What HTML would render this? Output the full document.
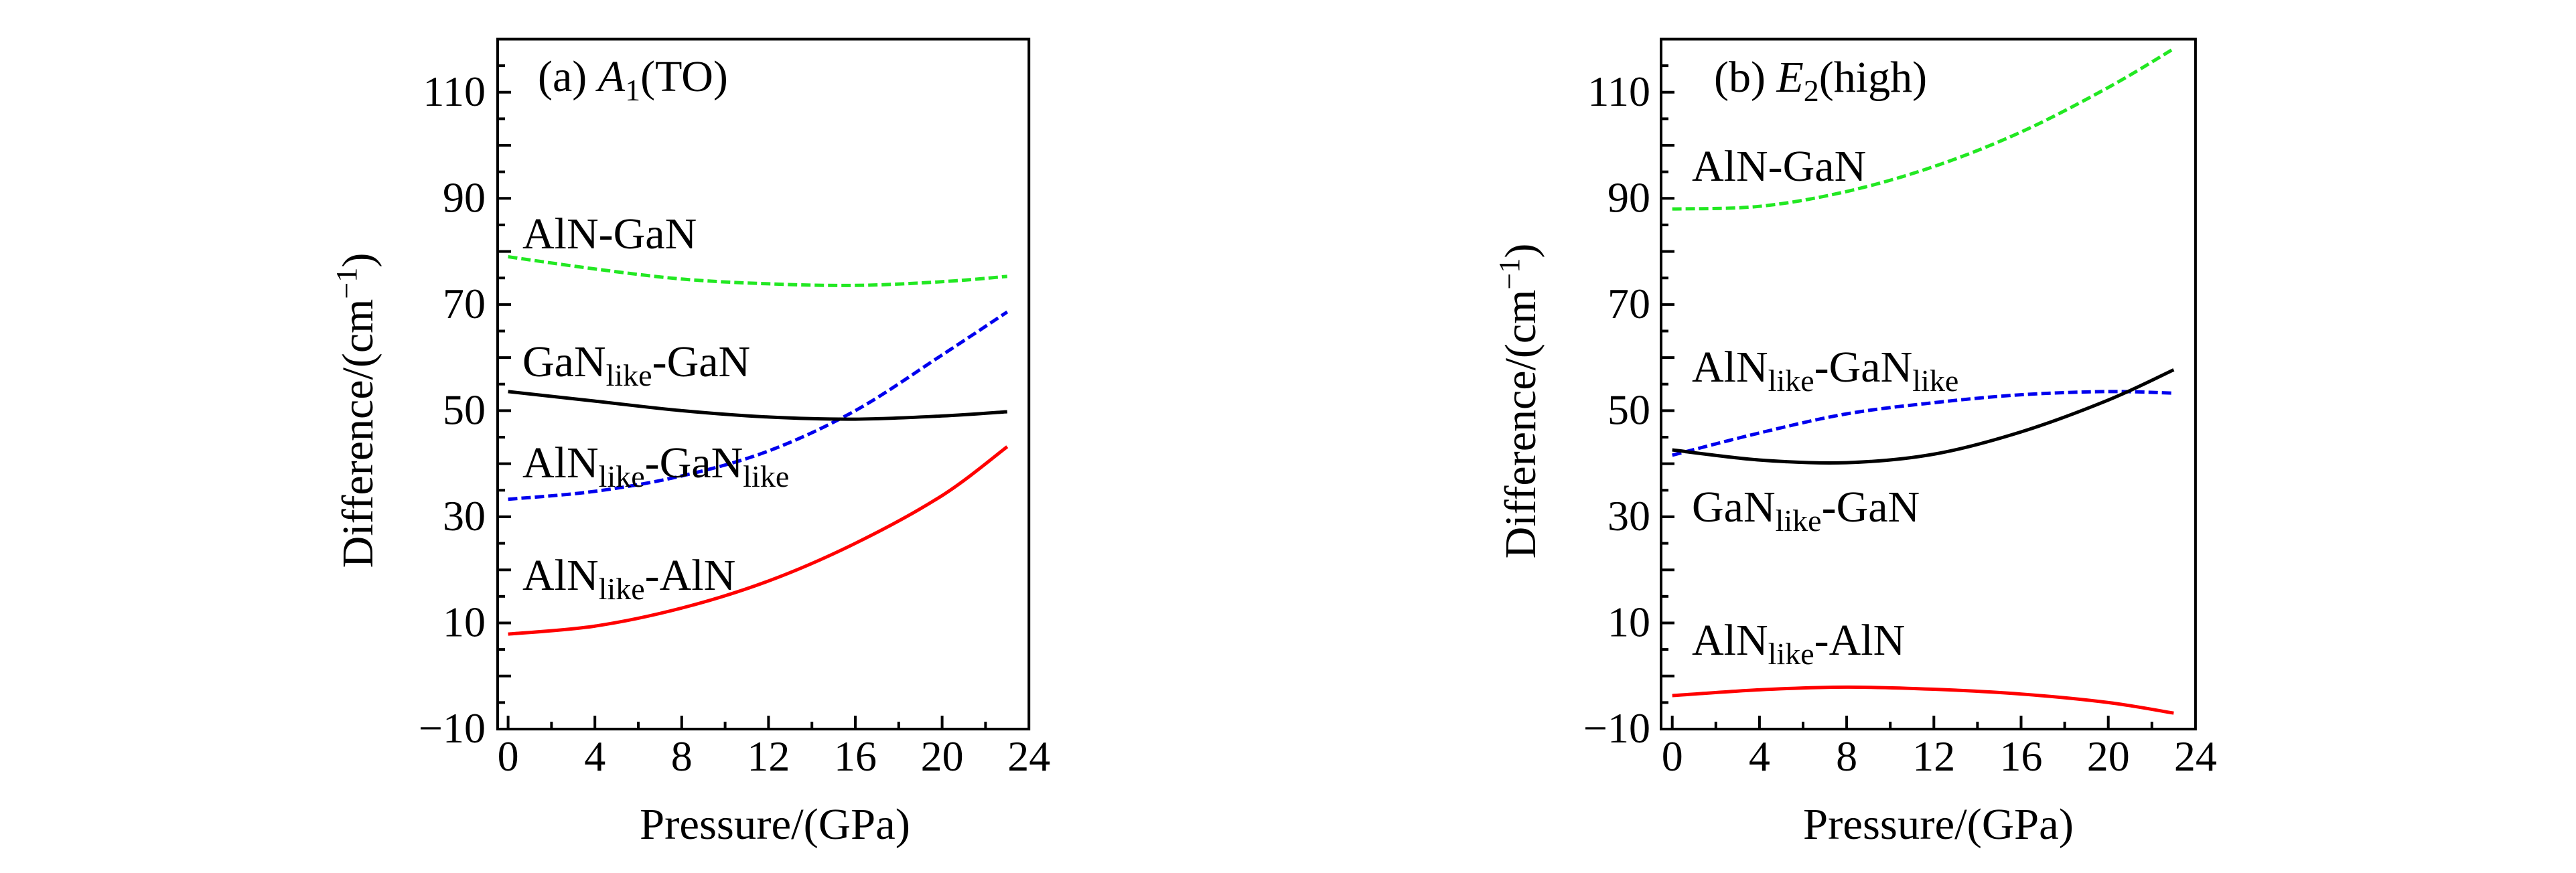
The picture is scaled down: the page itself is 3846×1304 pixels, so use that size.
<!DOCTYPE html>
<html><head><meta charset="utf-8"><style>
html,body{margin:0;padding:0;background:#fff;}
svg, svg text{font-family:"Liberation Serif","DejaVu Serif",serif;}
</style></head><body>
<svg id="chart" width="3846" height="1299" viewBox="0 0 3846 1299" xmlns="http://www.w3.org/2000/svg" font-family="Liberation Serif, DejaVu Serif, serif">
<rect x="0" y="0" width="3846" height="1299" fill="#fff"/>
</svg>
<script>
const pressures = [0, 4, 8, 12, 16, 20, 23];
const xTicks = [0, 4, 8, 12, 16, 20, 24];
const yTickLabels = [110, 90, 70, 50, 30, 10, -10];
// Panel (a) A1(TO)
const a_AlN_GaN = [79, 76.7, 74.8, 73.9, 73.6, 74.3, 75.3];
const a_AlNlike_GaNlike = [33.3, 34.8, 37.7, 42.4, 50, 60.5, 68.6];
const a_GaNlike_GaN = [53.6, 51.8, 50, 48.8, 48.4, 49, 49.8];
const a_AlNlike_AlN = [7.9, 9.4, 12.8, 17.9, 25, 34, 43.2];
// Panel (b) E2(high)
const b_AlN_GaN = [88, 88.5, 91.3, 96, 102.5, 110.9, 118.2];
const b_AlNlike_GaNlike = [41.6, 45.8, 49.4, 51.5, 53, 53.6, 53.3];
const b_GaNlike_GaN = [42.6, 40.7, 40.2, 41.8, 46, 52, 57.7];
const b_AlNlike_AlN = [-3.7, -2.6, -2.1, -2.5, -3.4, -5, -7];

const NS = "http://www.w3.org/2000/svg";
const FONT = '"Liberation Serif", "DejaVu Serif", serif';
const svg = document.getElementById('chart');
function mk(tag, attrs, parent) {
  const e = document.createElementNS(NS, tag);
  for (const k in attrs) e.setAttribute(k, attrs[k]);
  if (tag === 'text') e.style.fontFamily = FONT;
  (parent || svg).appendChild(e);
  return e;
}
function spline(pts) {
  let d = 'M' + pts[0][0] + ',' + pts[0][1];
  for (let i = 0; i < pts.length - 1; i++) {
    const p0 = pts[Math.max(i - 1, 0)], p1 = pts[i], p2 = pts[i + 1], p3 = pts[Math.min(i + 2, pts.length - 1)];
    const c1x = p1[0] + (p2[0] - p0[0]) / 6, c1y = p1[1] + (p2[1] - p0[1]) / 6;
    const c2x = p2[0] - (p3[0] - p1[0]) / 6, c2y = p2[1] - (p3[1] - p1[1]) / 6;
    d += ' C' + c1x + ',' + c1y + ' ' + c2x + ',' + c2y + ' ' + p2[0] + ',' + p2[1];
  }
  return d;
}
function labelWithSubs(g, x, y, parts, name) {
  const t = mk('text', {x: x, y: y, 'font-size': 66, fill: '#000'}, g);
  
  
  parts.forEach(p => {
    const s = mk('tspan', {}, t);
    if (p.sub) { s.setAttribute('font-size', 46); s.setAttribute('dy', 14); }
    else if (p.after) { s.setAttribute('dy', -14); }
    if (p.italic) s.setAttribute('font-style', 'italic');
    s.textContent = p.t;
  });
  return t;
}
function panel(cfg) {
  const g = mk('g', {});
  
  
  const x0 = cfg.x0, ppx = cfg.ppx, yTop = 58.5, yBot = 1089;
  const yMin = -10, yMax = 120;
  const X = v => x0 + v * ppx;
  const Y = v => yBot - (v - yMin) * (yBot - yTop) / (yMax - yMin);
  const left = cfg.left, right = X(24);
  const tg = mk('g', {stroke: '#000', 'stroke-width': 4}, g);
  
  
  for (let v = -5; v <= 115; v += 5) {
    const len = (v % 10 === 0) ? 20 : 11;
    mk('line', {x1: left, x2: left + len, y1: Y(v), y2: Y(v)}, tg);
  }
  for (let v = 0; v <= 22; v += 2) {
    const len = (v % 4 === 0) ? 20 : 11;
    mk('line', {x1: X(v), x2: X(v), y1: yBot, y2: yBot - len}, tg);
  }
  const fr = mk('rect', {x: left, y: yTop, width: right - left, height: yBot - yTop, fill: 'none', stroke: '#000', 'stroke-width': 4}, g);
  
  
  yTickLabels.forEach(v => {
    const t = mk('text', {x: cfg.ylabRight, y: Y(v) + 20, 'font-size': 64, 'text-anchor': 'end'}, g);
    
    
    t.textContent = v < 0 ? '\u2212' + Math.abs(v) : String(v);
  });
  xTicks.forEach(v => {
    const t = mk('text', {x: X(v), y: 1151, 'font-size': 64, 'text-anchor': 'middle'}, g);
    
    
    t.textContent = String(v);
  });
  const xt = mk('text', {x: cfg.xTitleX, y: 1253, 'font-size': 66, 'text-anchor': 'middle', textLength: 404, lengthAdjust: 'spacingAndGlyphs'}, g);
  
  
  xt.textContent = 'Pressure/(GPa)';
  const yt = mk('text', {x: 0, y: 0, 'font-size': 66, 'text-anchor': 'middle', transform: 'translate(' + cfg.yTitleX + ',' + cfg.yTitleY + ') rotate(-90)'}, g);
  
  
  const a1 = mk('tspan', {}, yt); a1.textContent = 'Difference/(cm';
  const a2 = mk('tspan', {dy: -24, 'font-size': 44}, yt); a2.textContent = '\u22121';
  const a3 = mk('tspan', {dy: 24}, yt); a3.textContent = ')';
  cfg.series.forEach(s => {
    const pts = pressures.map((p, i) => [X(p), Y(s.vals[i])]);
    const path = mk('path', {d: spline(pts), fill: 'none', stroke: s.color, 'stroke-width': 5, 'stroke-linecap': 'butt'}, g);
    if (s.dash) path.setAttribute('stroke-dasharray', '14 6');
    
    
  });
  cfg.labels.forEach(l => labelWithSubs(g, l.x, l.y, l.parts, l.name));
}

panel({
  name: 'panel-a-a1-to', x0: 758.6, ppx: 32.4, left: 743, ylabRight: 725,
  xTitleX: 1157, yTitleX: 556, yTitleY: 613,
  series: [
    {name: 'line-aln-gan', vals: a_AlN_GaN, color: '#22e822', dash: true},
    {name: 'line-alnlike-ganlike', vals: a_AlNlike_GaNlike, color: '#0000ee', dash: true},
    {name: 'line-ganlike-gan', vals: a_GaNlike_GaN, color: '#000', dash: false},
    {name: 'line-alnlike-aln', vals: a_AlNlike_AlN, color: '#ff0000', dash: false}
  ],
  labels: [
    {name: 'panel-title', x: 803, y: 136, parts: [{t: '(a) '}, {t: 'A', italic: true}, {t: '1', sub: true}, {t: '(TO)', after: true}]},
    {name: 'label-aln-gan', x: 780, y: 371, parts: [{t: 'AlN-GaN'}]},
    {name: 'label-ganlike-gan', x: 780, y: 562, parts: [{t: 'GaN'}, {t: 'like', sub: true}, {t: '-GaN', after: true}]},
    {name: 'label-alnlike-ganlike', x: 780, y: 713, parts: [{t: 'AlN'}, {t: 'like', sub: true}, {t: '-GaN', after: true}, {t: 'like', sub: true}]},
    {name: 'label-alnlike-aln', x: 780, y: 881, parts: [{t: 'AlN'}, {t: 'like', sub: true}, {t: '-AlN', after: true}]}
  ]
});
panel({
  name: 'panel-b-e2-high', x0: 2496.7, ppx: 32.55, left: 2480, ylabRight: 2464,
  xTitleX: 2894, yTitleX: 2292, yTitleY: 599,
  series: [
    {name: 'line-aln-gan', vals: b_AlN_GaN, color: '#22e822', dash: true},
    {name: 'line-alnlike-ganlike', vals: b_AlNlike_GaNlike, color: '#0000ee', dash: true},
    {name: 'line-ganlike-gan', vals: b_GaNlike_GaN, color: '#000', dash: false},
    {name: 'line-alnlike-aln', vals: b_AlNlike_AlN, color: '#ff0000', dash: false}
  ],
  labels: [
    {name: 'panel-title', x: 2559, y: 137, parts: [{t: '(b) '}, {t: 'E', italic: true}, {t: '2', sub: true}, {t: '(high)', after: true}]},
    {name: 'label-aln-gan', x: 2526, y: 270, parts: [{t: 'AlN-GaN'}]},
    {name: 'label-alnlike-ganlike', x: 2526, y: 570, parts: [{t: 'AlN'}, {t: 'like', sub: true}, {t: '-GaN', after: true}, {t: 'like', sub: true}]},
    {name: 'label-ganlike-gan', x: 2526, y: 779, parts: [{t: 'GaN'}, {t: 'like', sub: true}, {t: '-GaN', after: true}]},
    {name: 'label-alnlike-aln', x: 2526, y: 978, parts: [{t: 'AlN'}, {t: 'like', sub: true}, {t: '-AlN', after: true}]}
  ]
});
</script>
</body></html>
